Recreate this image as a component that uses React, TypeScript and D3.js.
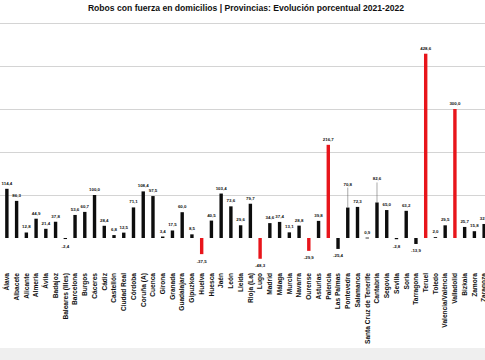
import React from "react";
import * as d3 from "d3";

const categories = [
  "Álava", "Albacete", "Alicante", "Almería", "Ávila", "Badajoz", "Baleares (Illes)", "Barcelona", "Burgos", "Cáceres",
  "Cádiz", "Castellón", "Ciudad Real", "Córdoba", "Coruña (A)", "Cuenca", "Girona", "Granada", "Guadalajara", "Gipuzkoa",
  "Huelva", "Huesca", "Jaén", "León", "Lleida", "Rioja (La)", "Lugo", "Madrid", "Málaga", "Murcia",
  "Navarra", "Ourense", "Asturias", "Palencia", "Las Palmas", "Pontevedra", "Salamanca", "Santa Cruz de Tenerife", "Cantabria", "Segovia",
  "Sevilla", "Soria", "Tarragona", "Teruel", "Toledo", "Valencia/València", "Valladolid", "Bizkaia", "Zamora", "Zaragoza",
];

const values = [
  114.4, 86.3, 12.8, 44.9, 21.4, 37.8, -2.4, 53.6, 60.7, 100.0,
  28.4, 6.8, 12.5, 71.1, 108.4, 97.5, 3.4, 17.5, 60.0, 8.5,
  -37.5, 40.5, 103.4, 73.6, 29.6, 79.7, -48.3, 34.6, 37.4, 13.1,
  28.8, -29.9, 39.8, 216.7, -25.4, 70.8, 72.3, 0.9, 82.6, 65.0,
  -2.8, 63.2, -13.9, 428.6, 2.0, 29.5, 300.0, 25.7, 15.8, 32.6,
];

const highlighted = ["Huelva", "Lugo", "Ourense", "Palencia", "Teruel", "Valladolid"];
const raisedLabels = ["Pontevedra", "Cantabria"];
const yTicks = [100, 200, 300, 400, 500];

const title = "Robos con fuerza en domicilios | Provincias: Evolución porcentual 2021-2022";

const W = 485;
const H = 360;

export default function App() {
  const x = d3.scaleBand<string>().domain(categories).range([2, 2 + categories.length * 9.74]).padding(0);
  const y = d3.scaleLinear().domain([-100, 500]).range([281, 23]);
  const fmt = (v: number) => v.toFixed(1).replace(".", ",");
  const barW = 3.4;
  const font = "'Liberation Sans', Arial, sans-serif";

  return (
    <svg width={W} height={H} style={{ position: "absolute", left: 0, top: 0, background: "#fff" }} fontFamily={font}>
      <rect x={0} y={0} width={W} height={H} fill="#fff" />
      <text x={246} y={11} textAnchor="middle" fontSize={8.6} fontWeight="bold" fill="#111">{title}</text>
      {yTicks.map((t) => (
        <line key={t} x1={0} x2={W} y1={Math.round(y(t)) + 0.5} y2={Math.round(y(t)) + 0.5} stroke="#d4d4d4" strokeWidth={1} />
      ))}
      {categories.map((c, i) => {
        const v = values[i];
        const cx = (x(c) as number) + x.bandwidth() / 2;
        const y0 = y(0);
        const y1 = y(v);
        const red = highlighted.includes(c);
        const raised = raisedLabels.includes(c);
        const labelY = v >= 0 ? y1 - 4 - (raised ? 18 : 0) : y1 + 8.5;
        return (
          <g key={c}>
            <rect x={cx - barW / 2} y={Math.min(y0, y1)} width={barW} height={Math.max(0.8, Math.abs(y1 - y0))} fill={red ? "#e8151b" : "#0d0d0d"} />
            {raised && <line x1={cx} x2={cx} y1={labelY + 2} y2={y1} stroke="#555" strokeWidth={0.5} />}
            <text x={cx} y={labelY} textAnchor="middle" fontSize={4.4} fontWeight="bold" fill="#111">{fmt(v)}</text>
            <text transform={`translate(${cx + 2.3},273) rotate(-90)`} textAnchor="end" fontSize={6.6} fontWeight="bold" fill="#111">{c}</text>
          </g>
        );
      })}
      <rect x={0} y={348} width={W} height={12} fill="#efefef" />
    </svg>
  );
}
